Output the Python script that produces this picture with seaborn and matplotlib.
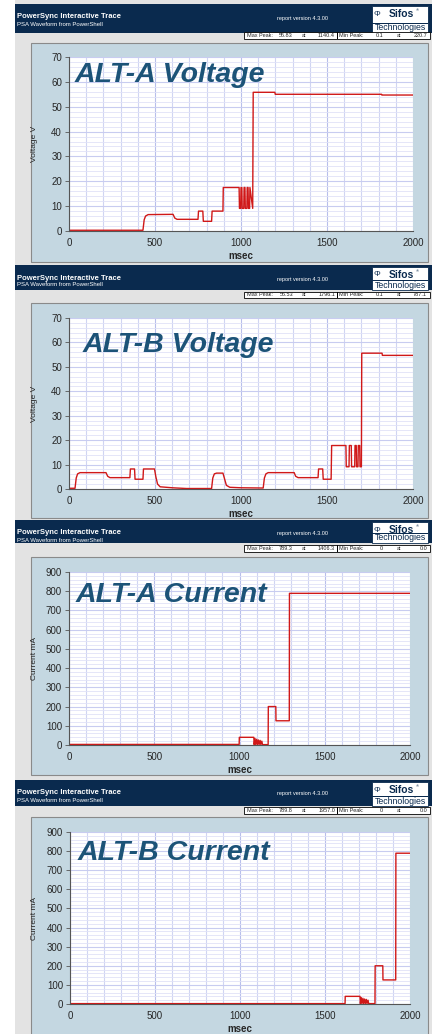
import numpy as np
import pandas as pd
import matplotlib.pyplot as plt
from matplotlib.patches import Rectangle
from matplotlib.ticker import MultipleLocator
import seaborn as sns

W, H = 432, 1034

# ALT-A voltage trace (msec, V)
alt_a_volt_t = [0, 430, 437, 445, 460, 605, 615, 628, 750, 753, 778, 781, 829, 832, 895, 897,
                989, 991, 998, 1000, 1005, 1007, 1016, 1018, 1023, 1025, 1034, 1036, 1041, 1043,
                1050, 1052, 1068, 1071, 1197, 1199, 1817, 1819, 2000]
alt_a_volt_v = [0.3, 0.3, 4.5, 6.0, 6.6, 6.7, 5.2, 4.7, 4.7, 8.0, 8.0, 3.9, 3.9, 8.0, 8.0, 17.5,
                17.5, 9.1, 9.1, 17.5, 17.5, 9.1, 9.1, 17.5, 17.5, 9.1, 9.1, 17.5, 17.5, 9.1,
                9.1, 17.5, 9.1, 55.8, 55.8, 55.0, 55.0, 54.7, 54.7]

# ALT-B voltage trace (msec, V)
alt_b_volt_t = [0, 35, 42, 50, 64, 215, 225, 238, 354, 357, 381, 384, 430, 433, 497, 505, 515,
                530, 600, 683, 829, 836, 845, 858, 895, 905, 915, 935, 1000, 1129, 1136, 1145,
                1158, 1309, 1318, 1332, 1448, 1451, 1475, 1478, 1524, 1527, 1610, 1612, 1628,
                1630, 1641, 1643, 1661, 1663, 1670, 1672, 1680, 1682, 1690, 1692, 1700, 1702,
                1820, 1822, 2000]
alt_b_volt_v = [0.3, 0.3, 4.5, 6.2, 6.7, 6.7, 5.2, 4.65, 4.65, 8.2, 8.2, 4.0, 4.0, 8.2, 8.2, 5.0,
                2.0, 0.9, 0.5, 0.2, 0.2, 4.5, 6.2, 6.5, 6.5, 4.0, 1.5, 0.7, 0.5, 0.4, 4.5, 6.2,
                6.7, 6.7, 5.2, 4.65, 4.65, 8.2, 8.2, 4.0, 4.0, 17.8, 17.8, 9.1, 9.1,
                17.8, 17.8, 9.1, 9.1, 17.8, 17.8, 9.1, 9.1, 17.8, 17.8, 9.1, 9.1, 55.6,
                55.6, 54.7, 54.7]

# ALT-A current trace (msec, mA)
alt_a_curr_t = [0, 998, 999, 1084, 1086, 1091, 1095, 1101, 1105, 1111, 1115, 1121, 1125, 1131,
                1135, 1168, 1169, 1213, 1214, 1292, 1293, 2000]
alt_a_curr_v = [3, 3, 40, 40, 2, 34, 2, 30, 2, 26, 2, 24, 2, 20, 2, 2, 200, 200, 126, 126, 789, 789]

# ALT-B current trace (msec, mA)
alt_b_curr_t = [0, 1618, 1619, 1706, 1708, 1713, 1717, 1723, 1727, 1733, 1737, 1743, 1747, 1753,
                1757, 1794, 1795, 1840, 1841, 1916, 1917, 2000]
alt_b_curr_v = [2, 2, 40, 40, 2, 34, 2, 30, 2, 26, 2, 24, 2, 20, 2, 2, 200, 200, 126, 126, 789, 789]

titles = ["ALT-A Voltage", "ALT-B Voltage", "ALT-A Current", "ALT-B Current"]
y_labels = ["Voltage V", "Voltage V", "Current mA", "Current mA"]
max_peak = ["55.83", "55.53", "789.3", "789.8"]
max_at = ["1140.4", "1796.1", "1406.3", "1957.0"]
min_peak = ["0.1", "0.1", "0", "0"]
min_at = ["220.7", "787.1", "0.0", "0.0"]

traces = [(alt_a_volt_t, alt_a_volt_v), (alt_b_volt_t, alt_b_volt_v),
          (alt_a_curr_t, alt_a_curr_v), (alt_b_curr_t, alt_b_curr_v)]

# pixel layout per panel: header top/bottom, stats top/bottom, frame top/bottom, axes box, title xy
headers = [(4, 33), (265, 290), (520, 543), (780, 806)]
stats = [(32, 39), (292, 298), (545, 552), (807, 814)]
frames = [(43, 262), (303, 518), (557, 775), (817, 1040)]
axes_px = [(69, 57, 413, 231), (69, 318, 413, 489), (69, 572, 410, 745), (70, 832, 410, 1004)]
title_px = [(75, 82), (83, 352), (76, 602), (78, 860)]

sns.set_style("white")
plt.rcParams['font.family'] = ['Liberation Sans', 'DejaVu Sans']

NAVY = '#0a2a4e'
FRAME = '#c4d7e1'
TITLE = '#1c5378'
RED = '#d01818'

fig = plt.figure(figsize=(W / 100, H / 100), dpi=100)
fig.patch.set_facecolor('#e3e3e3')


def fx(x):
    return x / W


def fy(y):
    return 1 - y / H


def rect(x0, y0, x1, y1, **kw):
    fig.add_artist(Rectangle((fx(x0), fy(y1)), (x1 - x0) / W, (y1 - y0) / H,
                             transform=fig.transFigure, **kw))


rect(0, 0, 15, H, facecolor='white', edgecolor='none', zorder=0)

for i in range(4):
    ht, hb = headers[i]
    st, sb = stats[i]
    ft, fb = frames[i]

    # header bar
    rect(15, ht, W, hb, facecolor=NAVY, edgecolor='none', zorder=1)
    fig.text(fx(17), fy(ht + 13), "PowerSync Interactive Trace", color='white',
             fontsize=5.5, fontweight='bold', va='center', zorder=3)
    fig.text(fx(17), fy(ht + 20), "PSA Waveform from PowerShell", color='white',
             fontsize=4.3, va='center', zorder=3)
    fig.text(fx(277), fy(ht + 14), "report version 4.3.00", color='white',
             fontsize=4, va='center', zorder=3)

    # logo
    rect(372, ht + 2, 428, hb, facecolor='white', edgecolor=NAVY, lw=0.6, zorder=2)
    rect(372, hb - 10, 428, hb - 9.4, facecolor=NAVY, edgecolor='none', zorder=3)
    fig.text(fx(401), fy(ht + 10), "Sifos", color=NAVY, fontsize=7.5,
             fontweight='bold', ha='center', va='center', zorder=3)
    fig.text(fx(416), fy(ht + 6), "\u00ae", color=NAVY, fontsize=3, va='center', zorder=3)
    fig.text(fx(400), fy(hb - 5), "Technologies", color=NAVY, fontsize=6.3,
             ha='center', va='center', zorder=3)
    fig.text(fx(377), fy(ht + 10), "\u03a6", color=NAVY, fontsize=6,
             ha='center', va='center', zorder=3)

    # stats line
    rect(244, st, 430, sb, facecolor='white', edgecolor='black', lw=0.6, zorder=2)
    rect(337, st, 337.5, sb, facecolor='black', edgecolor='none', zorder=3)
    sy = fy((st + sb) / 2)
    for x, s, ha in [(247, "Max Peak:", 'left'), (293, max_peak[i], 'right'), (302, "at", 'left'),
                     (335, max_at[i], 'right'), (339, "Min Peak:", 'left'),
                     (383, min_peak[i], 'right'), (397, "at", 'left'), (427, min_at[i], 'right')]:
        fig.text(fx(x), sy, s, fontsize=4, ha=ha, va='center', zorder=4)

    # plot frame
    rect(31, ft, 428, fb, facecolor=FRAME, edgecolor='#8a8a8a', lw=0.8, zorder=1)

    x0, y0, x1, y1 = axes_px[i]
    ax = fig.add_axes([fx(x0), fy(y1), (x1 - x0) / W, (y1 - y0) / H], zorder=5)
    ax.set_facecolor('white')

    t, v = traces[i]
    df = pd.DataFrame({'msec': t, 'value': v})
    sns.lineplot(data=df, x='msec', y='value', ax=ax, color=RED, lw=1.0,
                 sort=False, estimator=None)

    ymax = 70 if i < 2 else 900
    ystep = 10 if i < 2 else 100
    ax.set_xlim(0, 2000)
    ax.set_ylim(0, ymax)
    ax.xaxis.set_major_locator(MultipleLocator(500))
    ax.xaxis.set_minor_locator(MultipleLocator(100))
    ax.yaxis.set_major_locator(MultipleLocator(ystep))
    ax.yaxis.set_minor_locator(MultipleLocator(ystep / 5))
    ax.grid(which='minor', axis='y', color='#e0e2f7', lw=0.6)
    ax.grid(which='major', axis='y', color='#c8ccf0', lw=0.8)
    ax.grid(which='minor', axis='x', color='#d0d5f2', lw=0.8)
    ax.grid(which='major', axis='x', color='#b8bfeb', lw=0.8)
    ax.set_axisbelow(True)

    for side in ['top', 'right']:
        ax.spines[side].set_visible(False)
    for side in ['left', 'bottom']:
        ax.spines[side].set_color('#555555')
        ax.spines[side].set_linewidth(0.8)

    ax.tick_params(axis='y', which='major', length=3, width=0.6, color='#555555',
                   labelsize=7, pad=2, left=True)
    ax.tick_params(axis='x', which='major', length=0, labelsize=7, pad=5)
    ax.tick_params(which='minor', length=0)

    ax.set_xlabel("msec", fontsize=7, fontweight='bold', labelpad=2)
    ax.set_ylabel(y_labels[i], fontsize=6)
    ax.yaxis.set_label_coords(-(x0 - 38) / (x1 - x0), 0.5)

    tx, ty = title_px[i]
    fig.text(fx(tx), fy(ty), titles[i], color=TITLE, fontsize=20.5,
             fontweight='bold', fontstyle='italic', va='baseline', zorder=10)

fig.savefig("out.png", dpi=100, facecolor=fig.get_facecolor())
